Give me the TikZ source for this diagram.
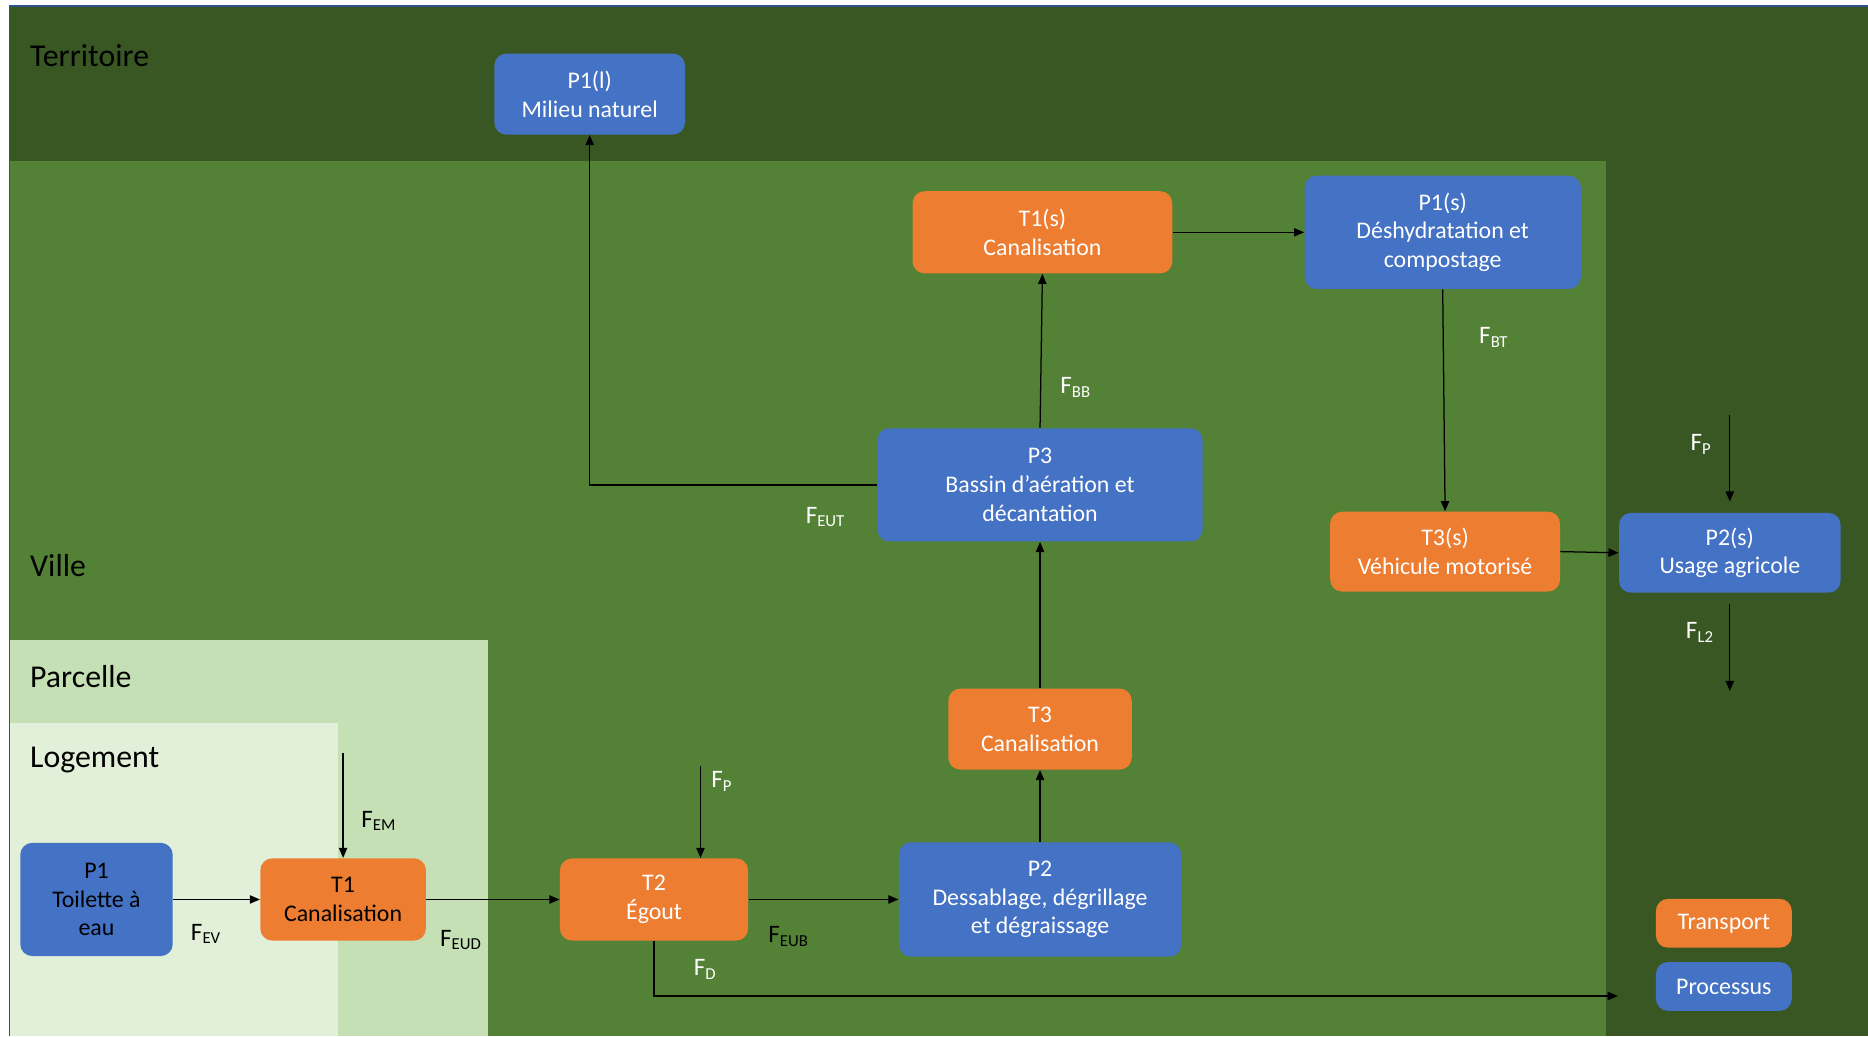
\documentclass[tikz,border=0pt]{standalone}
\usepackage{fontspec}
\setmainfont{Carlito}
\usetikzlibrary{arrows.meta}
\definecolor{terr}{HTML}{385723}
\definecolor{ville}{HTML}{538135}
\definecolor{parc}{HTML}{C5E0B4}
\definecolor{loge}{HTML}{E2F0D9}
\definecolor{pblue}{HTML}{4472C4}
\definecolor{torange}{HTML}{ED7D31}
\definecolor{frameblue}{HTML}{2F528F}
\begin{document}
\begin{tikzpicture}[x=0.02cm,y=-0.02cm,
 box/.style={rectangle, rounded corners=0.2cm, inner sep=0pt, align=center, text=white, font=\fontsize{11.4}{13.7}\selectfont},
 proc/.style={box, fill=pblue},
 trans/.style={box, fill=torange},
 region/.style={anchor=west, font=\fontsize{15.2}{18}\selectfont, text=black, inner sep=0pt},
 flab/.style={font=\fontsize{12}{14}\selectfont, inner sep=0pt, text=white},
 flabk/.style={flab, text=black},
 arr/.style={-{Triangle[length=1.7mm,width=1.4mm]}, line width=0.6pt, black},
]
\useasboundingbox (0,0) rectangle (1568,870);
\fill[white] (0,0) rectangle (1568,870);
\fill[terr] (8,5) rectangle (1568,870);
\draw[line width=0.8pt, frameblue] (8,870) -- (8,5) -- (1568,5);
\fill[ville] (8,135) rectangle (1348,870);
\fill[parc] (8,537) rectangle (410,870);
\fill[loge] (8,607) rectangle (284,870);

\node[region] (lterr) at (25,47) {Territoire};
\node[region] (lville) at (25,475) {Ville};
\node[region] (lparc) at (25,568) {Parcelle};
\node[region] (lloge) at (25,638) {Logement};

% boxes
\node[proc, minimum width=3.2cm, minimum height=1.36cm] (P1l) at (495,79) {P1(l)\\Milieu naturel};
\node[trans, minimum width=4.36cm, minimum height=1.38cm] (T1s) at (875,195) {T1(s)\\Canalisation};
\node[proc, minimum width=4.64cm, minimum height=1.9cm] (P1s) at (1211,195) {P1(s)\\Déshydratation et\\compostage};
\node[proc, minimum width=5.46cm, minimum height=1.9cm] (P3) at (873,407) {P3\\Bassin d’aération et\\décantation};
\node[trans, minimum width=3.86cm, minimum height=1.34cm] (T3s) at (1213,463) {T3(s)\\Véhicule motorisé};
\node[proc, minimum width=3.72cm, minimum height=1.34cm] (P2s) at (1452,464) {P2(s)\\Usage agricole};
\node[trans, minimum width=3.08cm, minimum height=1.36cm] (T3) at (873,612) {T3\\Canalisation};
\node[proc, minimum width=2.56cm, minimum height=1.9cm, text=black] (P1) at (81,755) {P1\\Toilette à\\eau};
\node[trans, minimum width=2.78cm, minimum height=1.38cm, text=black] (T1) at (288,755) {T1\\Canalisation};
\node[trans, minimum width=3.16cm, minimum height=1.38cm] (T2) at (549,755) {T2\\Égout};
\node[proc, minimum width=4.74cm, minimum height=1.92cm] (P2) at (873,755) {P2\\Dessablage, dégrillage\\et dégraissage};
\node[trans, minimum width=2.28cm, minimum height=0.82cm] (legT) at (1447,775) {Transport};
\node[proc, minimum width=2.28cm, minimum height=0.82cm] (legP) at (1447,828) {Processus};

% free ends
\coordinate (em) at (288,632);
\coordinate (fp1) at (588,643);
\coordinate (dend) at (1358,836);
\coordinate (fp2) at (1452,348);
\coordinate (fp2e) at (1452,421);
\coordinate (fl2s) at (1452,507);
\coordinate (fl2e) at (1452,580);

% connectors
\draw[arr] (P1.east) -- (T1.west);
\draw[arr] (em) -- (T1.north);
\draw[arr] (T1.east) -- (T2.west);
\draw[arr] (fp1) -- (fp1 |- T2.north);
\draw[arr] (T2.east) -- (P2.west);
\draw[arr] (T2.south) |- (dend);
\draw[arr] (P2.north) -- (T3.south);
\draw[arr] (T3.north) -- (P3.south);
\draw[arr] (P3.north) -- (T1s.south);
\draw[arr] (P3.west) -| (P1l.south);
\draw[arr] (T1s.east) -- (P1s.west);
\draw[arr] (P1s.south) -- (T3s.north);
\draw[arr] (T3s.east) -- (P2s.west);
\draw[arr] (fp2) -- (fp2e);
\draw[arr] (fl2s) -- (fl2e);

% flow labels
\node[flabk] (lEV) at (173,784) {F\textsubscript{EV}};
\node[flabk] (lEM) at (318,689) {F\textsubscript{EM}};
\node[flabk] (lEUD) at (387,789) {F\textsubscript{EUD}};
\node[flab] (lP1) at (606,656) {F\textsubscript{P}};
\node[flabk] (lEUB) at (662,786) {F\textsubscript{EUB}};
\node[flab] (lD) at (592,814) {F\textsubscript{D}};
\node[flab] (lBB) at (903,325) {F\textsubscript{BB}};
\node[flab] (lEUT) at (693,434) {F\textsubscript{EUT}};
\node[flab] (lBT) at (1254,283) {F\textsubscript{BT}};
\node[flab] (lP2) at (1428,373) {F\textsubscript{P}};
\node[flab] (lL2) at (1427,531) {F\textsubscript{L2}};
\end{tikzpicture}
\end{document}
